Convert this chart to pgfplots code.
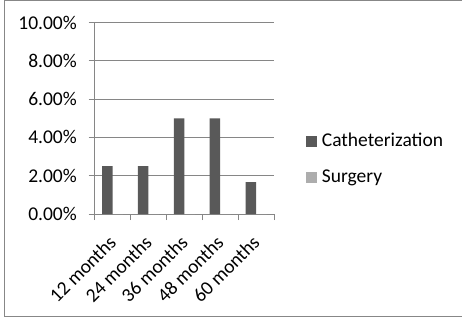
\documentclass[border=0pt]{standalone}
\usepackage{pgfplots}
\pgfplotsset{compat=1.18}
\usepackage{fontspec}
\setmainfont{Carlito}
\definecolor{cathgray}{HTML}{595959}
\definecolor{surggray}{HTML}{ADADAD}
\definecolor{gridgray}{HTML}{868686}
\definecolor{framegray}{HTML}{878787}
\begin{document}
\begin{tikzpicture}[x=1bp,y=1bp]
\useasboundingbox (0,0) rectangle (462,318);
\draw[framegray, line width=1bp] (470,317.5) -- (4.5,317.5) -- (4.5,1.5) -- (470,1.5);
\begin{axis}[
  at={(94.7bp,104bp)}, anchor=south west,
  scale only axis, width=179.3bp, height=191.5bp,
  xmin=-0.5, xmax=4.5, ymin=0, ymax=10,
  axis lines*=left,
  axis line style={gridgray, line width=1bp},
  every tick/.style={gridgray, line width=1bp},
  tick align=outside,
  major tick length=6bp, minor tick length=6bp,
  ytick={0,2,4,6,8,10},
  ymajorgrids, grid style={gridgray, line width=1bp},
  yticklabel={\pgfmathprintnumber[fixed,fixed zerofill,precision=2]{\tick}\%},
  /pgf/number format/assume math mode=true,
  xtick={0,1,2,3,4},
  xticklabels={12 months,24 months,36 months,48 months,60 months},
  major x tick style={draw=none},
  minor xtick={-0.5,0.5,1.5,2.5,3.5,4.5},
  tick label style={font=\fontsize{19.5bp}{23bp}\selectfont, text=black},
  yticklabel style={inner sep=0pt, anchor=east, xshift=-11.7bp},
  xticklabel style={xshift=0bp, yshift=-19bp, rotate=45, anchor=east, inner sep=0pt},
  legend style={at={(1.1768,0.287)}, anchor=west, draw=none, fill=none,
    inner sep=0pt, font=\fontsize{19.5bp}{23bp}\selectfont,
    nodes={inner sep=0pt, text height=14bp, text depth=4bp},
    row sep=18bp, column sep=5bp},
  legend cell align=left,
]
\addplot[ybar, bar width=10.5bp, bar shift=-5.25bp, fill=cathgray, draw=none,
  legend image code/.code={\fill[cathgray] (0bp,-5.5bp) rectangle (11bp,5.5bp);}]
  coordinates {(0,2.5) (1,2.5) (2,5) (3,5) (4,1.6667)};
\addlegendentry{Catheterization}
\addplot[ybar, bar width=10.5bp, bar shift=5.25bp, fill=surggray, draw=none,
  legend image code/.code={\fill[surggray] (0bp,-5.5bp) rectangle (11bp,5.5bp);}]
  coordinates {(0,0) (1,0) (2,0) (3,0) (4,0)};
\addlegendentry{Surgery}
\end{axis}
\end{tikzpicture}
\end{document}
